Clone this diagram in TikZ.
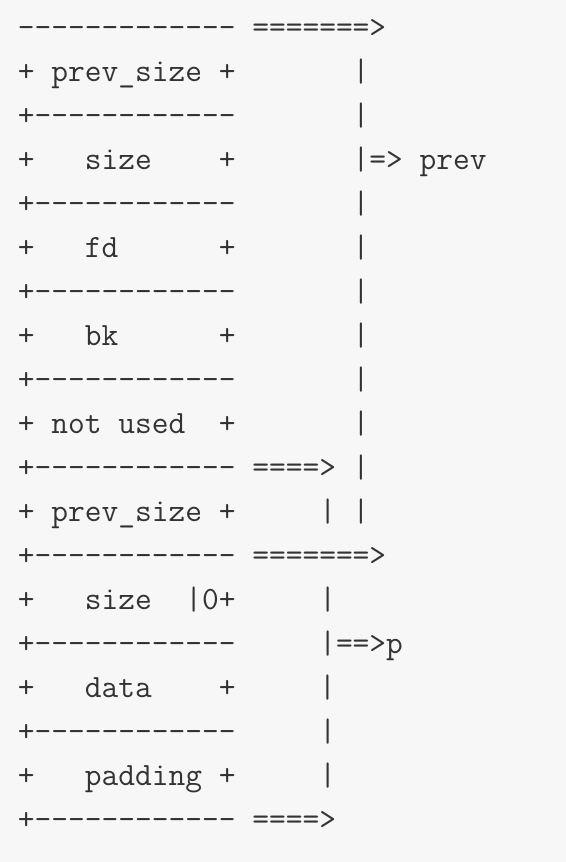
\documentclass[tikz,border=0pt]{standalone}
\usepackage{fontspec}
\setmonofont{Latin Modern Mono}
\usetikzlibrary{positioning}

\definecolor{pagebg}{HTML}{F7F7F7}
\definecolor{ink}{HTML}{333333}

\tikzset{
  row/.style={anchor=base west, inner sep=0pt, outer sep=0pt, text=ink,
    font=\ttfamily\fontsize{16.25pt}{18pt}\selectfont},
}

\begin{document}
\begin{tikzpicture}
				\fill[pagebg] (0,0) rectangle (283pt,-431pt);
				\useasboundingbox (0,0) rectangle (283pt,-431pt);
				% previous chunk
				\node[row] (r1) at (9pt,-18.5pt) {-------------~=======>};
				\node[row] (r2) at ([yshift=-22pt]r1.base west) {+~prev\_size~+~~~~~~~|};
				\node[row] (r3) at ([yshift=-22pt]r2.base west) {+------------~~~~~~~|};
				\node[row] (r4) at ([yshift=-22pt]r3.base west) {+~~~size~~~~+~~~~~~~|=>~prev};
				\node[row] (r5) at ([yshift=-22pt]r4.base west) {+------------~~~~~~~|};
				\node[row] (r6) at ([yshift=-22pt]r5.base west) {+~~~fd~~~~~~+~~~~~~~|};
				\node[row] (r7) at ([yshift=-22pt]r6.base west) {+------------~~~~~~~|};
				\node[row] (r8) at ([yshift=-22pt]r7.base west) {+~~~bk~~~~~~+~~~~~~~|};
				\node[row] (r9) at ([yshift=-22pt]r8.base west) {+------------~~~~~~~|};
				\node[row] (r10) at ([yshift=-22pt]r9.base west) {+~not~used~~+~~~~~~~|};
				\node[row] (r11) at ([yshift=-22pt]r10.base west) {+------------~====>~|};
				\node[row] (r12) at ([yshift=-22pt]r11.base west) {+~prev\_size~+~~~~~|~|};
				% current chunk
				\node[row] (r13) at ([yshift=-22pt]r12.base west) {+------------~=======>};
				\node[row] (r14) at ([yshift=-22pt]r13.base west) {+~~~size~~|0+~~~~~|};
				\node[row] (r15) at ([yshift=-22pt]r14.base west) {+------------~~~~~|==>p};
				\node[row] (r16) at ([yshift=-22pt]r15.base west) {+~~~data~~~~+~~~~~|};
				\node[row] (r17) at ([yshift=-22pt]r16.base west) {+------------~~~~~|};
				\node[row] (r18) at ([yshift=-22pt]r17.base west) {+~~~padding~+~~~~~|};
				\node[row] (r19) at ([yshift=-22pt]r18.base west) {+------------~====>};
			\end{tikzpicture}
\end{document}
